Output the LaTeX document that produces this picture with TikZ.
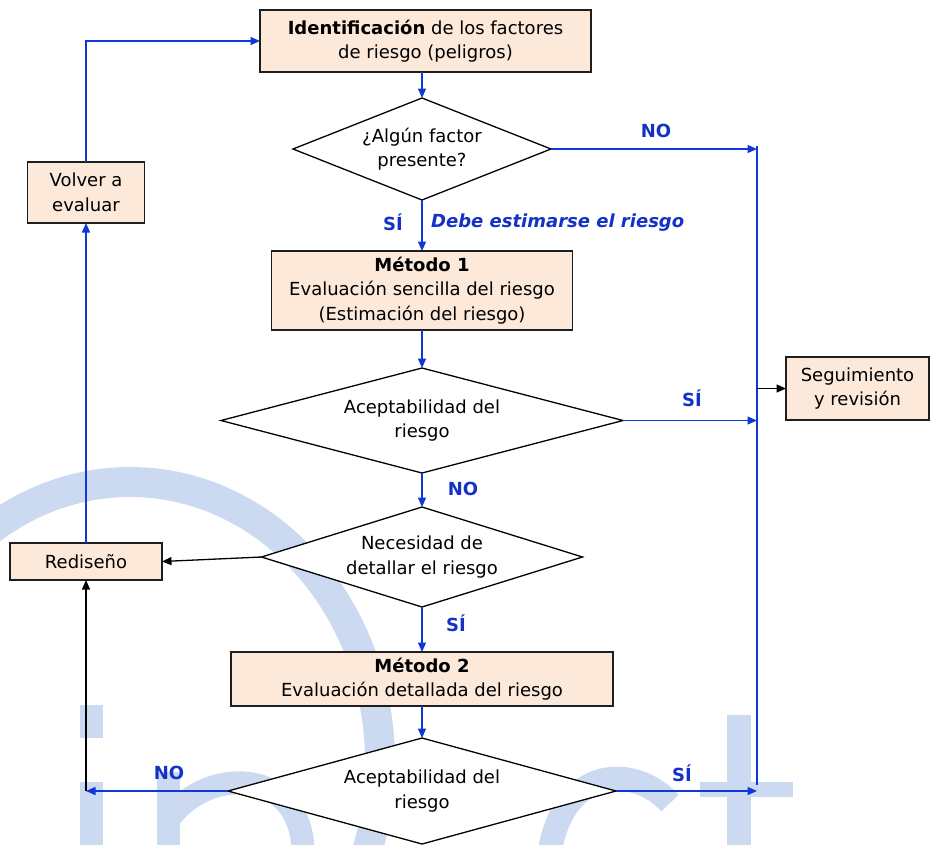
\documentclass[tikz,border=0pt]{standalone}
\usepackage{fontspec}
\setmainfont{DejaVu Sans}
\usetikzlibrary{shapes.geometric,arrows.meta}
\definecolor{flowblue}{RGB}{16,56,214}
\definecolor{lblblue}{RGB}{20,50,200}
\definecolor{boxfill}{RGB}{253,233,217}
\definecolor{boxline}{RGB}{30,30,30}
\definecolor{wmblue}{RGB}{204,218,241}
\begin{document}
\begin{tikzpicture}[x=1pt,y=-1pt,
  every node/.style={font=\fontsize{18pt}{24.5pt}\selectfont, text=black},
  box/.style={draw=boxline, line width=1.6pt, fill=boxfill, inner sep=0pt, outer sep=0pt, align=center},
  dia/.style={diamond, draw=black, line width=1.3pt, fill=white, inner sep=0pt, outer sep=0pt},
  txt/.style={align=center, inner sep=0pt},
  lbl/.style={font=\fontsize{18pt}{24.5pt}\selectfont\bfseries, text=lblblue, inner sep=0pt},
  flow/.style={draw=flowblue, line width=1.4pt, -{Triangle[length=9.5pt,width=8pt]}},
  vline/.style={draw=flowblue, line width=1.4pt},
  bflow/.style={draw=black, line width=1.3pt, -{Triangle[length=9.5pt,width=8pt]}},
  wm/.style={draw=wmblue}]
\fill[white] (0,0) rectangle (931,844);
\useasboundingbox (0,0) rectangle (931,844);
% watermark
\begin{scope}
\clip (0,0) rectangle (931,844);
\draw[wm, line width=30pt] (130,762) ellipse[x radius=250pt, y radius=280pt];
\fill[wmblue] (80,705) rectangle (103,738);
\fill[wmblue] (80,782) rectangle (103,850);
\draw[wm, line width=23pt] (168.5,772) -- (168.5,850);
\draw[wm, line width=23pt] (170,818) .. controls (205,768) and (300,765) .. (303,850);
\draw[wm, line width=24pt] (670,803) .. controls (635,765) and (565,765) .. (550,850);
\fill[wmblue] (727,715) rectangle (751,850);
\fill[wmblue] (700,782) rectangle (793,797);
\end{scope}
% nodes
\node[box, minimum width=331pt, minimum height=62pt] (id) at (425.5,41) {\textbf{Identificación} de los factores\\de riesgo (peligros)};
\node[dia, minimum width=258pt, minimum height=102pt] (d1) at (422,149) {};
\node[txt] (d1t) at (d1.center) {¿Algún factor\\presente?};
\node[box, minimum width=301pt, minimum height=79pt] (m1) at (422,290.5) {\textbf{Método 1}\\Evaluación sencilla del riesgo\\(Estimación del riesgo)};
\node[dia, minimum width=402pt, minimum height=105pt] (d2) at (422,420.5) {};
\node[txt] (d2t) at (d2.center) {Aceptabilidad del\\riesgo};
\node[dia, minimum width=321pt, minimum height=100pt] (d3) at (422,557) {};
\node[txt] (d3t) at (d3.center) {Necesidad de\\detallar el riesgo};
\node[box, minimum width=382pt, minimum height=54pt] (m2) at (422,679) {\textbf{Método 2}\\Evaluación detallada del riesgo};
\node[dia, minimum width=388pt, minimum height=106pt] (d4) at (422,791) {};
\node[txt] (d4t) at (d4.center) {Aceptabilidad del\\riesgo};
\node[box, minimum width=152pt, minimum height=37pt] (red) at (86,561.5) {Rediseño};
\node[box, minimum width=117pt, minimum height=61pt] (vol) at (86,192.5) {Volver a\\evaluar};
\node[box, minimum width=143pt, minimum height=63pt] (seg) at (857.5,388.5) {Seguimiento\\y revisión};
% connectors
\coordinate (vt) at (757,146);
\coordinate (vb) at (757,785);
\coordinate (bl) at (86,791);
\draw[vline] (vt) -- (vb);
\draw[flow] (d1.north |- id.south) -- (d1.north);
\draw[flow] (d1.east) -- (d1.east -| vt);
\draw[flow] (d1.south) -- (m1.north);
\draw[flow] (m1.south) -- (d2.north);
\draw[flow] (d2.east) -- (d2.east -| vt);
\draw[flow] (d2.south) -- (d3.north);
\draw[bflow] (d3.west) -- (red.east);
\draw[flow] (d3.south) -- (m2.north);
\draw[flow] (m2.south) -- (d4.north);
\draw[flow] (d4.west) -- (bl);
\draw[bflow] (bl) -- (red.south);
\draw[flow] (red.north) -- (vol.south);
\draw[flow] (vol.north) |- (id.west);
\draw[flow] (d4.east) -- (d4.east -| vt);
\draw[bflow] (vt |- seg.west) -- (seg.west);
% labels
\node[lbl] (no1) at (656,131) {NO};
\node[lbl] (si1) at (393,222) {SÍ};
\node[lbl, font=\fontsize{18pt}{24.5pt}\selectfont\bfseries\itshape, anchor=west] (deb) at (431,223) {Debe estimarse el riesgo};
\node[lbl] (si2) at (692,398) {SÍ};
\node[lbl] (no2) at (463,489) {NO};
\node[lbl] (si3) at (456,623) {SÍ};
\node[lbl] (no3) at (169,773) {NO};
\node[lbl] (si4) at (682,773) {SÍ};
\end{tikzpicture}
\end{document}
